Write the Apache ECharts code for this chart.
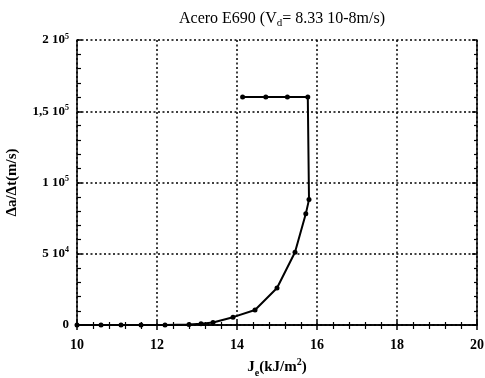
<!DOCTYPE html>
<html>
<head>
<meta charset="utf-8">
<script src="https://cdn.jsdelivr.net/npm/echarts@6/dist/echarts.min.js"></script>
<style>
  html, body { margin: 0; padding: 0; background: #fff; }
  #chart { width: 485px; height: 378px; }
</style>
</head>
<body>
<div id="chart"></div>
<script>
// Crack growth rate vs. Je, measured points in acquisition order
const jeValues = [10.0, 10.6, 11.1, 11.6, 12.2, 12.8, 13.1, 13.4, 13.9, 14.45, 15.0, 15.45, 15.72, 15.8, 15.77, 15.26, 14.72, 14.14];
const rateValues = [0, 0, 0, 0, 0, 300, 800, 1800, 5500, 10500, 26000, 51000, 78000, 88000, 160000, 160000, 160000, 160000];

// Y tick labels as mantissa / exponent pairs
const yTickLabels = {
  0: ['0', ''],
  50000: ['5 10', '4'],
  100000: ['1 10', '5'],
  150000: ['1,5 10', '5'],
  200000: ['2 10', '5']
};

const FONT = '"Liberation Serif", "DejaVu Serif", serif';
const points = jeValues.map((x, i) => [x, rateValues[i]]);

const chart = echarts.init(document.getElementById('chart'), null, { renderer: 'canvas' });

const frameLine = { show: true, lineStyle: { color: '#000', width: 1.5 } };

chart.setOption({
  animation: false,
  backgroundColor: '#fff',
  title: {
    text: 'Acero E690 (V{sub|d}= 8.33 10-8m/s)',
    left: 277,
    textAlign: 'center',
    top: 3,
    textStyle: {
      fontFamily: FONT, fontSize: 16, fontWeight: 'normal', color: '#000',
      rich: {
        sub: { fontFamily: FONT, fontSize: 11, color: '#000', padding: [10, 0, 0, 0] }
      }
    }
  },
  grid: { left: 77, right: 8, top: 40, bottom: 53, outerBoundsMode: 'none', containLabel: false },
  xAxis: [
    {
      type: 'value', min: 10, max: 20, interval: 2,
      position: 'bottom',
      name: 'J{sub|e}(kJ/m{sup|2})',
      nameLocation: 'middle', nameGap: 31,
      nameTextStyle: {
        fontFamily: FONT, fontSize: 15, fontWeight: 'bold', color: '#000',
        rich: {
          sub: { fontFamily: FONT, fontSize: 10, fontWeight: 'bold', color: '#000', padding: [12, 0, 0, 0] },
          sup: { fontFamily: FONT, fontSize: 10, fontWeight: 'bold', color: '#000', padding: [0, 0, 9, 0] }
        }
      },
      axisLine: frameLine,
      axisTick: { show: true, inside: false, length: 5, lineStyle: { color: '#000', width: 1.5 } },
      minorTick: { show: true, splitNumber: 5, length: 4, lineStyle: { color: '#000', width: 1.2 } },
      axisLabel: { fontFamily: FONT, fontSize: 14, fontWeight: 'bold', color: '#000', margin: 13 },
      splitLine: { show: true, lineStyle: { color: '#000', type: [2, 2.5], width: 1.5 } }
    },
    {
      type: 'value', min: 10, max: 20, interval: 2,
      position: 'top',
      axisLine: frameLine,
      axisTick: { show: true, inside: false, length: 4, lineStyle: { color: '#000', width: 1.5 } },
      minorTick: { show: true, splitNumber: 5, length: 3, lineStyle: { color: '#000', width: 1.2 } },
      axisLabel: { show: false },
      splitLine: { show: false }
    }
  ],
  yAxis: [
    {
      type: 'value', min: 0, max: 200000, interval: 50000,
      position: 'left',
      name: 'Δa/Δt(m/s)',
      nameLocation: 'middle', nameGap: 57, nameRotate: 90,
      nameTextStyle: { fontFamily: FONT, fontSize: 15, fontWeight: 'bold', color: '#000' },
      axisLine: frameLine,
      axisTick: { show: true, inside: true, length: 5, lineStyle: { color: '#000', width: 1.5 } },
      minorTick: { show: true, splitNumber: 5, length: 4, lineStyle: { color: '#000', width: 1.2 } },
      axisLabel: {
        fontFamily: FONT, fontSize: 13, fontWeight: 'bold', color: '#000', margin: 8,
        formatter: function (v) {
          const t = yTickLabels[v];
          if (!t) return '';
          return t[1] ? '{m|' + t[0] + '}{e|' + t[1] + '}' : '{m|' + t[0] + '}';
        },
        rich: {
          m: { fontFamily: FONT, fontSize: 13, fontWeight: 'bold', color: '#000' },
          e: { fontFamily: FONT, fontSize: 8, fontWeight: 'bold', color: '#000', padding: [0, 0, 7, 0] }
        }
      },
      splitLine: { show: true, lineStyle: { color: '#000', type: [2, 2.5], width: 1.5 } }
    },
    {
      type: 'value', min: 0, max: 200000, interval: 50000,
      position: 'right',
      axisLine: frameLine,
      axisTick: { show: true, inside: true, length: 5, lineStyle: { color: '#000', width: 1.5 } },
      minorTick: { show: true, splitNumber: 5, length: 3, lineStyle: { color: '#000', width: 1.2 } },
      axisLabel: { show: false },
      splitLine: { show: false }
    }
  ],
  series: [
    {
      type: 'line',
      data: points,
      xAxisIndex: 0,
      yAxisIndex: 0,
      symbol: 'circle',
      symbolSize: 5,
      itemStyle: { color: '#000' },
      lineStyle: { color: '#000', width: 2 },
      z: 5
    }
  ]
});
</script>
</body>
</html>
